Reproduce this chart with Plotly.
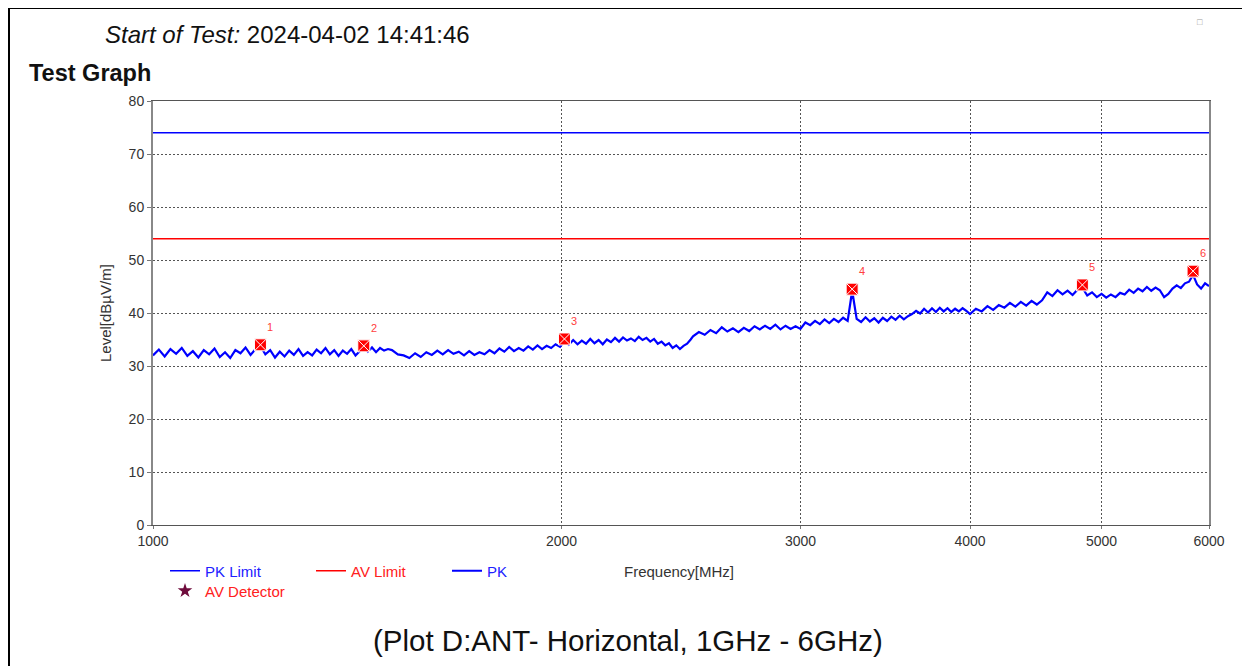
import numpy as np
import plotly.graph_objects as go

# sweep (frequency in MHz, PK level in dBuV/m)
freq_a = [1000, 1010, 1020, 1030, 1040, 1050, 1060, 1070, 1080, 1090,
          1100, 1110, 1120, 1130, 1140, 1150, 1160, 1170, 1180, 1190,
          1200, 1210, 1220, 1230, 1240, 1250, 1260, 1270, 1280, 1290,
          1300, 1310, 1320, 1330, 1340, 1350, 1360, 1370, 1380, 1390,
          1400, 1410, 1420, 1430, 1440, 1450, 1460, 1470, 1480, 1490]
level_a = [32.0, 33.1, 31.8, 33.2, 32.3, 33.4, 31.9, 32.8, 31.6, 33.0,
           32.2, 33.3, 31.7, 32.6, 31.5, 33.0, 32.4, 33.5, 32.1, 33.2,
           33.8, 32.2, 33.0, 31.6, 32.7, 31.8, 32.9, 32.1, 33.2, 31.9,
           32.6, 32.0, 33.1, 32.4, 33.4, 32.2, 33.0, 31.9, 32.9, 32.3,
           33.2, 32.0, 32.8, 33.6, 32.7, 33.5, 32.6, 33.4, 32.9, 33.2]

freq_b = [1500, 1515, 1530, 1545, 1560, 1575, 1590, 1605, 1620, 1635,
          1650, 1665, 1680, 1695, 1710, 1725, 1740, 1755, 1770, 1785,
          1800, 1815, 1830, 1845, 1860, 1875, 1890, 1905, 1920, 1935,
          1950, 1965, 1980, 1995, 2010, 2025, 2040, 2055, 2070, 2085,
          2100, 2115, 2130, 2145, 2160, 2175, 2190, 2205, 2220, 2235,
          2250, 2265, 2280, 2295, 2310, 2325, 2340, 2355, 2370, 2385,
          2400, 2415, 2430, 2445, 2460, 2475, 2490]
level_b = [33.0, 32.2, 32.0, 31.5, 32.4, 31.7, 32.6, 32.1, 32.9, 32.2,
           33.0, 32.3, 32.7, 32.0, 32.8, 32.1, 32.6, 32.2, 33.0, 32.4,
           33.3, 32.7, 33.6, 32.8, 33.4, 32.9, 33.7, 33.1, 33.9, 33.2,
           33.8, 33.4, 34.1, 33.6, 34.7, 34.0, 34.9, 34.1, 34.8, 34.2,
           35.1, 34.3, 34.9, 34.1, 35.0, 34.5, 35.3, 34.6, 35.4, 34.8,
           35.2, 34.7, 35.5, 34.9, 35.3, 34.6, 35.1, 34.2, 34.6, 33.9,
           34.3, 33.4, 33.9, 33.2, 33.8, 34.2, 35.0]

freq_c = [2500, 2525, 2550, 2575, 2600, 2625, 2650, 2675, 2700, 2725,
          2750, 2775, 2800, 2825, 2850, 2875, 2900, 2925, 2950, 2975,
          3000, 3025, 3050, 3075, 3100, 3125, 3150, 3175, 3200, 3225,
          3250, 3275, 3300, 3325, 3350, 3375, 3400, 3425, 3450, 3475,
          3500, 3525, 3550, 3575, 3600, 3625, 3650, 3675, 3700, 3725,
          3750, 3775, 3800, 3825, 3850, 3875, 3900, 3925, 3950, 3975]
level_c = [35.6, 36.4, 35.9, 36.8, 36.2, 37.3, 36.5, 37.1, 36.4, 37.2,
           36.6, 37.5, 36.9, 37.6, 37.0, 37.8, 36.9, 37.6, 37.0, 37.5,
           37.0, 38.2, 37.7, 38.5, 37.9, 38.8, 38.1, 38.9, 38.3, 39.1,
           38.5, 44.2, 38.9, 38.3, 39.2, 38.4, 39.0, 38.2, 39.1, 38.5,
           39.3, 38.7, 39.5, 38.8, 39.4, 39.8, 40.4, 39.9, 40.8, 40.1,
           40.9, 40.2, 41.0, 40.3, 40.9, 40.2, 40.8, 40.3, 40.9, 40.4]

freq_d = [4000, 4040, 4080, 4120, 4160, 4200, 4240, 4280, 4320, 4360,
          4400, 4440, 4480, 4520, 4560, 4600, 4640, 4680, 4720, 4760,
          4800, 4840, 4880, 4920, 4960, 5000, 5040, 5080, 5120, 5160,
          5200, 5240, 5280, 5320, 5360, 5400, 5440, 5480, 5520, 5560,
          5600, 5640, 5680, 5720, 5760, 5800, 5840, 5880, 5920, 5960, 6000]
level_d = [39.8, 40.8, 40.3, 41.3, 40.6, 41.5, 41.0, 41.9, 41.2, 42.1,
           41.4, 42.3, 41.6, 42.4, 43.9, 43.2, 44.3, 43.5, 44.2, 43.4,
           44.4, 44.8, 43.3, 43.9, 43.0, 43.6, 42.9, 43.5, 43.0, 43.8,
           43.5, 44.4, 43.8, 44.6, 44.1, 44.9, 44.2, 44.8, 44.3, 43.0,
           43.6, 44.6, 45.2, 44.7, 45.6, 45.9, 47.2, 45.4, 44.6, 45.6, 45.1]

freq = freq_a + freq_b + freq_c + freq_d
level = level_a + level_b + level_c + level_d

# limits
pk_limit = 74
av_limit = 54

# final measurement points
mk_freq = [1200, 1430, 2010, 3275, 4840, 5840]
mk_level = [34.0, 33.8, 35.1, 44.5, 45.3, 47.9]
mk_label = ["1", "2", "3", "4", "5", "6"]

x_ticks = [1000, 2000, 3000, 4000, 5000, 6000]
y_ticks = [0, 10, 20, 30, 40, 50, 60, 70, 80]

FONT = "Liberation Sans, Arial, sans-serif"
BLUE = "#0000ff"
RED = "#ff0000"

fig = go.Figure()
fig.add_trace(go.Scatter(x=[1000, 6000], y=[pk_limit, pk_limit], mode="lines",
                         line=dict(color=BLUE, width=1.5), legend="legend",
                         name="<span style='color:#2020ff'>PK Limit</span>"))
fig.add_trace(go.Scatter(x=[1000, 6000], y=[av_limit, av_limit], mode="lines",
                         line=dict(color=RED, width=1.5), legend="legend2",
                         name="<span style='color:#ff2020'>AV Limit</span>"))
fig.add_trace(go.Scatter(x=freq, y=level, mode="lines",
                         line=dict(color=BLUE, width=2.2), legend="legend3",
                         name="<span style='color:#2020ff'>PK</span>"))
fig.add_trace(go.Scatter(x=[None], y=[None], mode="markers",
                         marker=dict(symbol="star", size=11, color="#6e0c3c"),
                         legend="legend4",
                         name="<span style='color:#ff2020'>AV Detector</span>"))
fig.add_trace(go.Scatter(x=mk_freq, y=mk_level, mode="markers", showlegend=False,
                         marker=dict(symbol="square-x", size=12, color=RED,
                                     line=dict(color="white", width=1))))

for f, v, t in zip(mk_freq, mk_level, mk_label):
    fig.add_annotation(x=np.log10(f), y=v, text=t, showarrow=False,
                       xshift=10, yshift=18, font=dict(size=11, color="#ff4040"))

# page pixel -> paper coords (plot area spans 153..1209 x 101..525 on the page)
def pos(px, py):
    return (px - 153) / 1056, (525 - py) / 424

def note(px, py, text, size, color="#111", **kw):
    ax, ay = pos(px, py)
    opts = dict(xref="paper", yref="paper", x=ax, y=ay, yanchor="middle",
                text=text, showarrow=False, font=dict(size=size, color=color))
    opts.update(kw)
    fig.add_annotation(**opts)

note(103, 35, "<i>Start of Test:</i> 2024-04-02 14:41:46", 24, xanchor="left")
note(27, 73, "<b>Test Graph</b>", 23.5, xanchor="left")
note(628, 640, "(Plot D:ANT- Horizontal, 1GHz - 6GHz)", 29.5, xanchor="center")
note(622, 571, "Frequency[MHz]", 15, "#333", xanchor="left")
note(105, 313, "Level[dBµV/m]", 15, "#333", xanchor="center", textangle=-90)
note(1200, 22, "□", 9, "#999", xanchor="center")

# outer frame
x0, y0 = pos(9, 700)
x1, y1 = pos(1247, 8)
fig.add_shape(type="rect", xref="paper", yref="paper", x0=x0, y0=y0, x1=x1, y1=y1,
              line=dict(color="black", width=2))

def leg(px, py):
    lx, ly = pos(px, py)
    return dict(x=lx, y=ly, xanchor="left", yanchor="middle",
                bgcolor="rgba(0,0,0,0)", font=dict(family=FONT, size=15))

fig.update_layout(
    width=1242, height=658,
    margin=dict(l=145, r=41, t=93, b=141),
    paper_bgcolor="white", plot_bgcolor="white",
    font=dict(family=FONT, color="#333"),
    legend=leg(165, 571), legend2=leg(311, 571),
    legend3=leg(447, 571), legend4=leg(165, 591),
    xaxis=dict(type="log", range=[3, np.log10(6000)], tickvals=x_ticks,
               ticktext=[str(v) for v in x_ticks], tickfont=dict(size=14, color="#333"),
               showgrid=True, gridcolor="#555", griddash="2px,2px", gridwidth=1,
               showline=True, linecolor="#555", linewidth=1, mirror=True,
               ticks="outside", ticklen=3, tickcolor="#777"),
    yaxis=dict(range=[0, 80], tickvals=y_ticks, tickfont=dict(size=14, color="#333"),
               showgrid=True, gridcolor="#555", griddash="2px,2px", gridwidth=1,
               zeroline=False, showline=True, linecolor="#888", linewidth=2, mirror=True,
               ticks="outside", ticklen=4, tickcolor="#777"),
)

fig.write_html("out.html")
